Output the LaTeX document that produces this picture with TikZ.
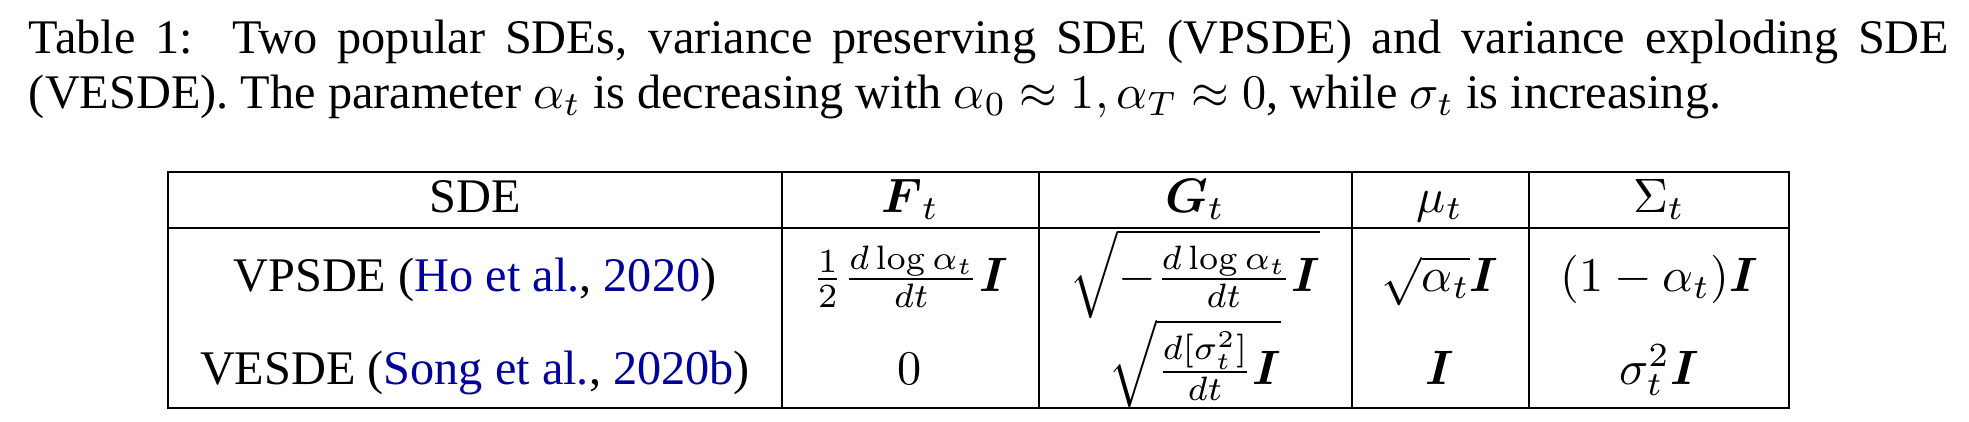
\documentclass[tikz,border=0pt]{standalone}
\usepackage{amsmath}
\usepackage{amssymb}
\usepackage[no-math]{fontspec}
\setmainfont{Liberation Serif}
\usepackage{xcolor}
\usepackage{tikz}
\definecolor{citeblue}{rgb}{0,0,0.6}
\tikzstyle {cell text} = [inner sep=0pt, anchor=base]
\tikzset{table rule/.style = {line width=0.4pt, black}}
\newcommand{\refcite}[2]{\textcolor{citeblue}{#1}, \textcolor{citeblue}{#2}}
\newcommand{\bI}{\boldsymbol{I}}

\begin{document}
\begin{tikzpicture}[x=0.20706pt, y=-0.20706pt]
            \useasboundingbox (0, 0) rectangle (1969, 421);
            % caption
            \node[inner sep=0pt, anchor=base west] (capA) at (28, 53)
                {\makebox[397.6pt][s]{Table 1:\ \ Two popular SDEs, variance preserving SDE (VPSDE) and variance exploding SDE}};
            \node[inner sep=0pt, anchor=base west] (capB) at (28, 108)
                {(VESDE). The parameter $\alpha_t$ is decreasing with $\alpha_0 \approx 1, \alpha_T \approx 0$, while $\sigma_t$ is increasing.};
            % table rules
            \draw[table rule] (168, 172) rectangle (1789, 408);
            \draw[table rule] (168, 228) -- (1789, 228);
            \foreach \x in {782, 1039, 1352, 1529}
                \draw[table rule] (\x, 172) -- (\x, 408);
            % header
            \node[cell text] (hSDE) at (475, 212) {SDE};
            \node[cell text] (hF) at (910, 212) {$\boldsymbol{F}_t$};
            \node[cell text] (hG) at (1195, 212) {$\boldsymbol{G}_t$};
            \node[cell text] (hMu) at (1440, 212) {$\mu_t$};
            \node[cell text] (hSigma) at (1659, 212) {$\Sigma_t$};
            % VPSDE row
            \node[cell text] (vpName) at (475, 291) {VPSDE (\refcite{Ho et al.}{2020})};
            \node[cell text] (vpF) at (910, 291) {$\frac{1}{2}\frac{d\log\alpha_t}{dt}\bI$};
            \node[cell text] (vpG) at (1195, 291) {$\sqrt{-\frac{d\log\alpha_t}{dt}\bI}$};
            \node[cell text] (vpMu) at (1440, 291) {$\sqrt{\alpha_t}\bI$};
            \node[cell text] (vpSigma) at (1659, 291) {$(1-\alpha_t)\bI$};
            % VESDE row
            \node[cell text] (veName) at (475, 384) {VESDE (\refcite{Song et al.}{2020b})};
            \node[cell text] (veF) at (910, 384) {$0$};
            \node[cell text] (veG) at (1195, 384) {$\sqrt{\frac{d[\sigma_t^2]}{dt}\bI}$};
            \node[cell text] (veMu) at (1440, 384) {$\bI$};
            \node[cell text] (veSigma) at (1659, 384) {$\sigma_t^2\bI$};
        \end{tikzpicture}
\end{document}
